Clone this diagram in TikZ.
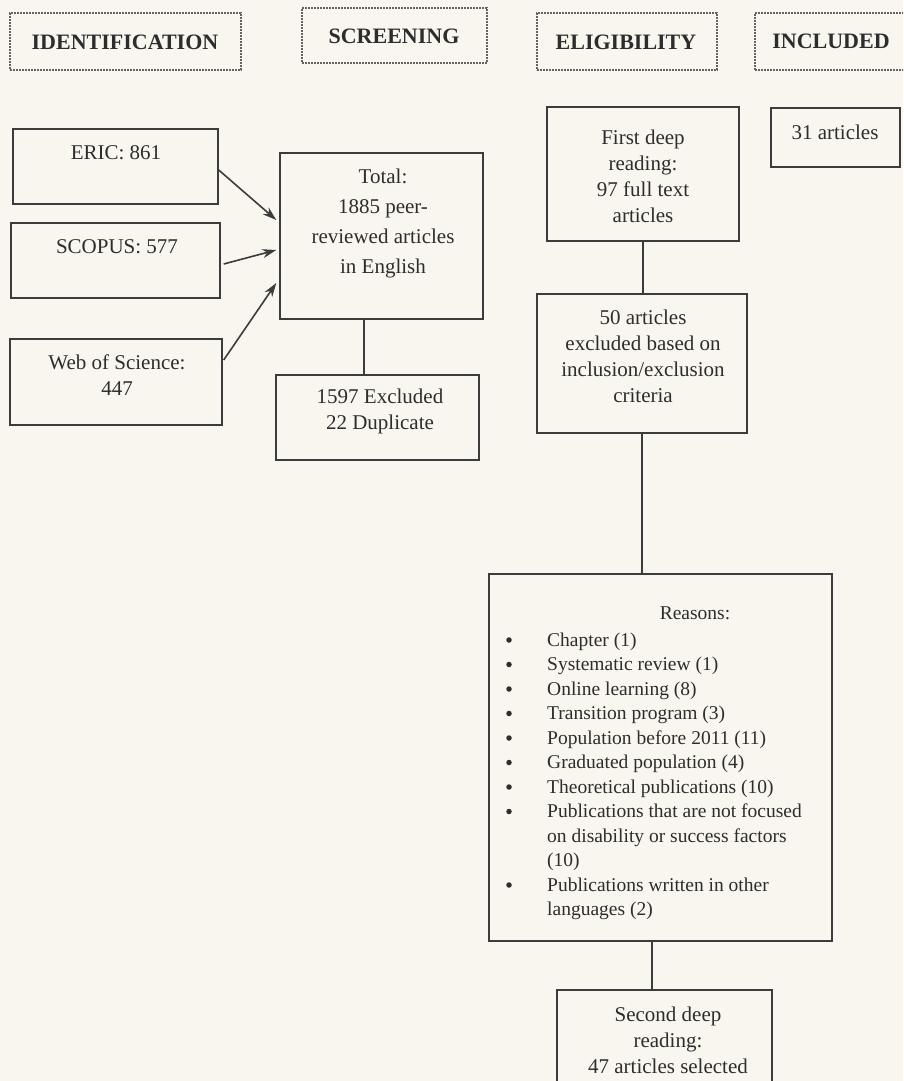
\documentclass[tikz,border=0pt]{standalone}
\usepackage{fontspec}
\setmainfont{Liberation Serif}
\usetikzlibrary{arrows.meta,calc}
\definecolor{bgc}{RGB}{248,246,238}
\definecolor{linec}{RGB}{60,60,60}
\definecolor{txtc}{RGB}{45,45,45}
\begin{document}
\begin{tikzpicture}[x=1pt,y=-1pt,
  box/.style={draw=linec, line width=1.4pt, inner sep=0pt, fill=none},
  headbox/.style={draw=linec!80, line width=1.1pt, dash pattern=on 1.6pt off 1.4pt, inner sep=0pt},
  headtxt/.style={text=txtc, font=\fontsize{22}{26}\selectfont\bfseries, inner sep=0pt},
  txt/.style={text=txtc, font=\fontsize{21}{26}\selectfont, align=center, inner sep=0pt},
  rtxt/.style={text=txtc, font=\fontsize{19.5}{24}\selectfont, inner sep=0pt, anchor=base west},
  bul/.style={circle, fill=txtc, inner sep=0pt, minimum size=5.5pt},
  conn/.style={draw=linec, line width=1.4pt},
  arr/.style={draw=linec, line width=1.6pt, -{Stealth[length=14pt,width=9pt]}}]
\useasboundingbox (0,0) rectangle (903,1081);
\fill[bgc] (0,0) rectangle (903,1081);
\clip (0,0) rectangle (903,1081);

% headers
\node[headbox, minimum width=231pt, minimum height=57pt] (hid) at (125.5,41.5) {};
\node[headtxt] (hidT) at (125,42) {IDENTIFICATION};
\node[headbox, minimum width=185pt, minimum height=55pt] (hsc) at (394.5,35.5) {};
\node[headtxt] (hscT) at (394,36) {SCREENING};
\node[headbox, minimum width=180pt, minimum height=57pt] (hel) at (627,41.5) {};
\node[headtxt] (helT) at (626,42) {ELIGIBILITY};
\node[headbox, minimum width=160pt, minimum height=57pt] (hin) at (835,41.5) {};
\node[headtxt] (hinT) at (831,41) {INCLUDED};

% identification
\node[box, minimum width=205pt, minimum height=75pt] (eric) at (115.5,166.5) {};
\node[txt] (ericT) at (116,153) {ERIC: 861};
\node[box, minimum width=209pt, minimum height=75pt] (scopus) at (115.5,260.5) {};
\node[txt] (scopusT) at (117,247) {SCOPUS: 577};
\node[box, minimum width=212pt, minimum height=86pt] (wos) at (116,382) {};
\node[txt] (wosT) at (117,375) {Web of Science:\\447};

% screening
\node[box, minimum width=203pt, minimum height=166pt] (total) at (381.5,236) {};
\node[txt, font=\fontsize{21}{30}\selectfont] (totalT) at (383,223) {Total:\\1885 peer-\\reviewed articles\\in English};
\node[box, minimum width=203pt, minimum height=85pt] (excl) at (377.5,417.5) {};
\node[txt] (exclT) at (380,411) {1597 Excluded\\22 Duplicate};

% eligibility
\node[box, minimum width=192pt, minimum height=134pt] (first) at (643,174) {};
\node[txt] (firstT) at (643,176) {First deep\\reading:\\97 full text\\articles};
\node[box, minimum width=210pt, minimum height=139pt] (fifty) at (642,363.5) {};
\node[txt] (fiftyT) at (643,356) {50 articles\\excluded based on\\inclusion/exclusion\\criteria};
\node[box, minimum width=343pt, minimum height=367pt] (reasons) at (660.5,757.5) {};
\node[txt, font=\fontsize{19.5}{24}\selectfont] (reasonsT) at (695,613) {Reasons:};
\foreach \t [count=\i from 0] in {Chapter (1),Systematic review (1),Online learning (8),Transition program (3),Population before 2011 (11),Graduated population (4),Theoretical publications (10)}{
  \node[rtxt] (r\i) at (547,{646+24.5*\i}) {\t};
  \node[bul] (b\i) at (509,{640+24.5*\i}) {};
}
\node[rtxt] (r7) at (547,{646+24.5*7}) {Publications that are not focused};
\node[bul] (b7) at (509,{640+24.5*7}) {};
\node[rtxt] (r8) at (547,{646+24.5*8}) {on disability or success factors};
\node[rtxt] (r9) at (547,{646+24.5*9}) {(10)};
\node[rtxt] (r10) at (547,{646+24.5*10}) {Publications written in other};
\node[bul] (b10) at (509,{640+24.5*10}) {};
\node[rtxt] (r11) at (547,{646+24.5*11}) {languages (2)};
\node[box, minimum width=215pt, minimum height=100pt] (second) at (664.5,1040) {};
\node[txt] (secondT) at (668,1040.5) {Second deep\\reading:\\47 articles selected};

% included
\node[box, minimum width=129pt, minimum height=59pt] (incl) at (835.5,137.5) {};
\node[txt] (inclT) at (835,132) {31 articles};

% connectors
\draw[arr] ($(eric.east)+(0,3.5)$) -- ($(total.west)+(-3,-16)$);
\draw[arr] ($(scopus.east)+(3,3.5)$) -- ($(total.west)+(-3,14)$);
\draw[arr] ($(wos.east)+(1,-22)$) -- ($(total.west)+(-3,47)$);
\coordinate (cx1) at (364,0);
\draw[conn] (total.south -| cx1) -- (excl.north -| cx1);
\draw[conn] (first.south) -- (fifty.north -| first.south);
\draw[conn] (fifty.south) -- (reasons.north -| fifty.south);
\coordinate (cx2) at (652,0);
\draw[conn] (reasons.south -| cx2) -- (second.north -| cx2);
\end{tikzpicture}
\end{document}
